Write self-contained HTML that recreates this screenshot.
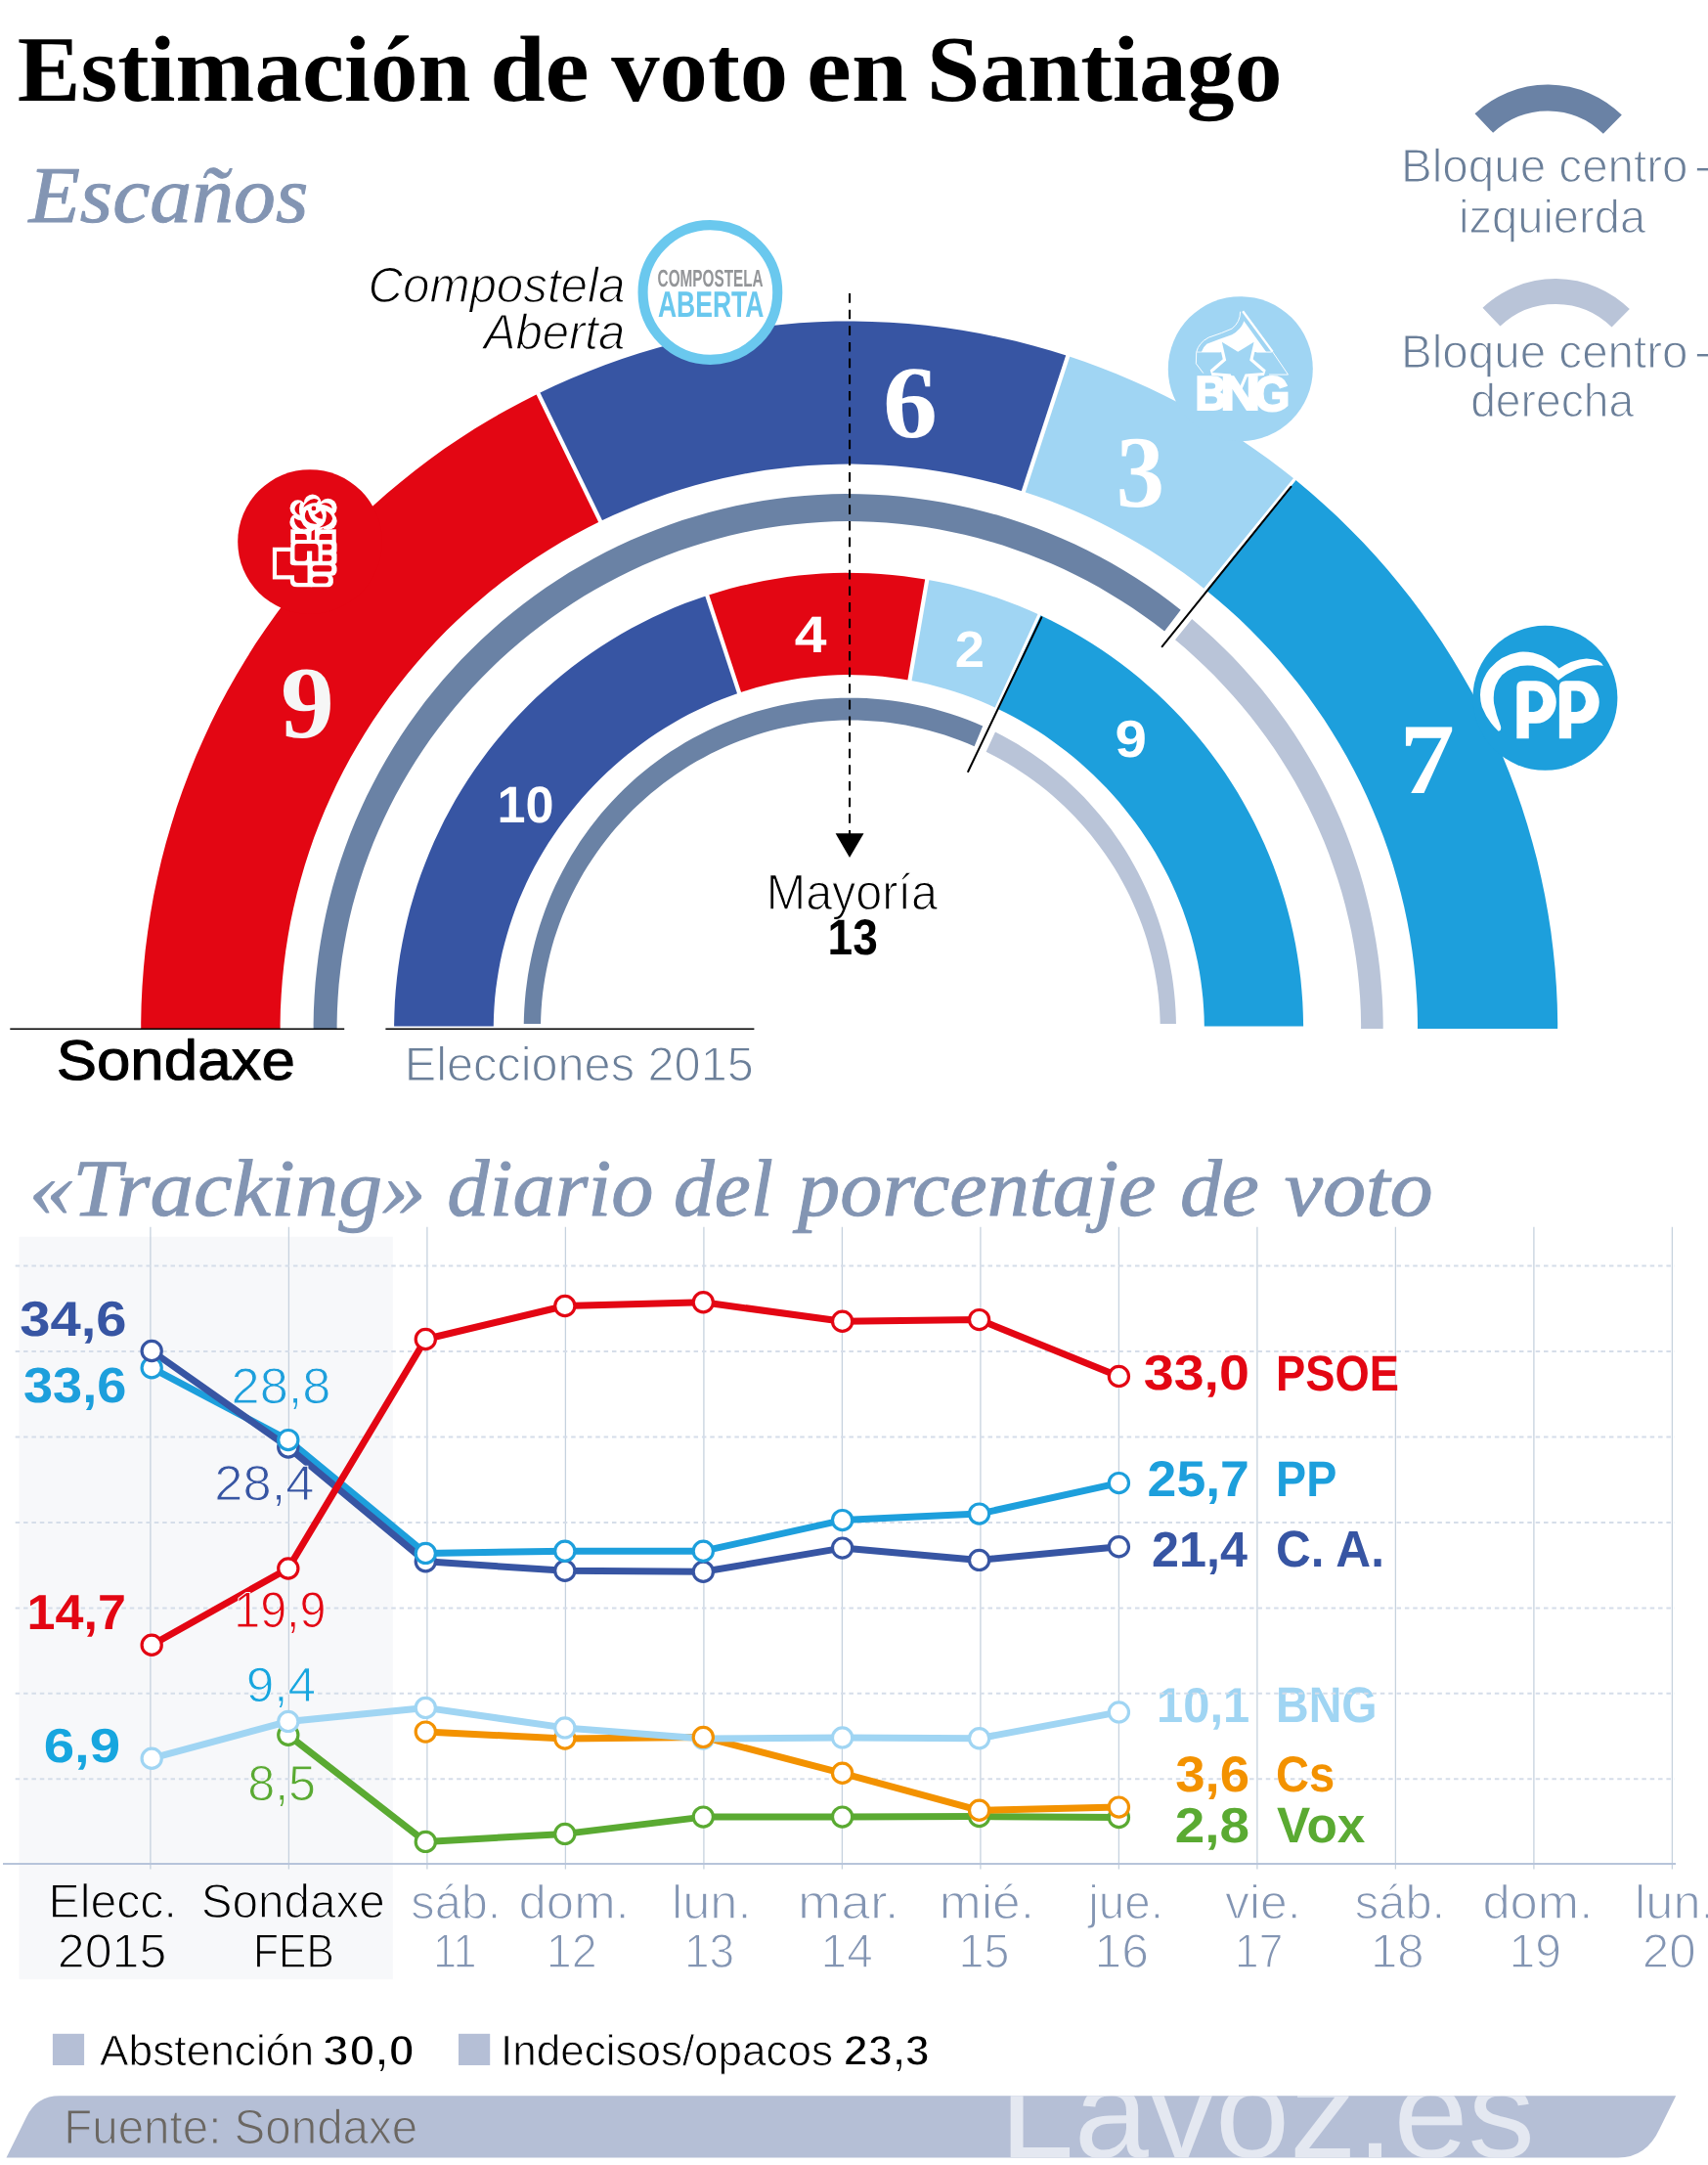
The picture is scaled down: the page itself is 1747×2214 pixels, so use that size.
<!DOCTYPE html>
<html lang="es"><head><meta charset="utf-8"><title>Estimación de voto en Santiago</title>
<style>html,body{margin:0;padding:0;background:#fff}body{width:1747px;height:2214px;overflow:hidden;font-family:"Liberation Sans",sans-serif}svg{will-change:transform}svg text{white-space:pre}</style></head>
<body>
<svg width="1747" height="2214" viewBox="0 0 1747 2214" style="display:block" text-rendering="geometricPrecision">
<rect width="1747" height="2214" fill="#fff"/>
<text transform="translate(17.78 102.50) scale(1.0109 1.0000)" font-family='"Liberation Serif", serif' font-size="96" font-weight="bold" font-style="normal" fill="#000">Estimación</text>
<text transform="translate(501.13 102.50) scale(1.0578 1.0000)" font-family='"Liberation Serif", serif' font-size="96" font-weight="bold" font-style="normal" fill="#000">de</text>
<text transform="translate(625.20 102.50) scale(1.0282 1.0000)" font-family='"Liberation Serif", serif' font-size="96" font-weight="bold" font-style="normal" fill="#000">voto</text>
<text transform="translate(825.11 102.50) scale(1.0751 1.0000)" font-family='"Liberation Serif", serif' font-size="96" font-weight="bold" font-style="normal" fill="#000">en</text>
<text transform="translate(947.91 102.50) scale(1.0173 1.0000)" font-family='"Liberation Serif", serif' font-size="96" font-weight="bold" font-style="normal" fill="#000">Santiago</text>
<text transform="translate(29.45 227.00) scale(1.0463 1.0000)" font-family='"Liberation Serif", serif' font-size="82" font-weight="normal" font-style="italic" fill="#8395b3" stroke="#8395b3" stroke-width="1.0" stroke-linejoin="round">Escaños</text>
<path d="M1517.83 126.07A94.5 94.5 0 0 1 1649.35 127.21" fill="none" stroke="#6a82a5" stroke-width="27"/>
<path d="M1525.49 324.20A95 95 0 0 1 1657.70 325.36" fill="none" stroke="#b9c4d8" stroke-width="26"/>
<text transform="translate(1433.04 186.00) scale(0.9909 1.0000)" font-family='"Liberation Sans", sans-serif' font-size="48" font-weight="normal" font-style="normal" fill="#6b7f99" stroke="#fff" stroke-width="1.2">Bloque centro</text>
<text transform="translate(1731.88 186.00) scale(1.4083 1.0000)" font-family='"Liberation Sans", sans-serif' font-size="48" font-weight="normal" font-style="normal" fill="#6b7f99" stroke="#fff" stroke-width="1.2">-</text>
<text transform="translate(1492.11 238.40) scale(0.9802 1.0000)" font-family='"Liberation Sans", sans-serif' font-size="48" font-weight="normal" font-style="normal" fill="#6b7f99" stroke="#fff" stroke-width="1.2">izquierda</text>
<text transform="translate(1433.04 375.90) scale(0.9909 1.0000)" font-family='"Liberation Sans", sans-serif' font-size="48" font-weight="normal" font-style="normal" fill="#6b7f99" stroke="#fff" stroke-width="1.2">Bloque centro</text>
<text transform="translate(1731.88 375.90) scale(1.4083 1.0000)" font-family='"Liberation Sans", sans-serif' font-size="48" font-weight="normal" font-style="normal" fill="#6b7f99" stroke="#fff" stroke-width="1.2">-</text>
<text transform="translate(1504.17 426.30) scale(0.9627 1.0000)" font-family='"Liberation Sans", sans-serif' font-size="48" font-weight="normal" font-style="normal" fill="#6b7f99" stroke="#fff" stroke-width="1.2">derecha</text>
<defs><clipPath id="cpo"><rect x="0" y="0" width="1747" height="1052"/></clipPath><clipPath id="cpi"><rect x="0" y="0" width="1747" height="1049.5"/></clipPath><clipPath id="cpr"><rect x="0" y="0" width="1747" height="1047"/></clipPath></defs>
<g clip-path="url(#cpo)">
<path d="M144.3 1064.6L144.2 1046.0L144.6 1027.3L145.5 1008.7L146.9 990.1L148.7 971.6L151.1 953.1L153.9 934.6L157.1 916.3L160.9 898.0L165.1 879.8L169.8 861.8L175.0 843.9L180.6 826.1L186.7 808.5L193.3 791.0L200.2 773.8L207.7 756.7L215.5 739.8L223.8 723.1L232.6 706.6L241.7 690.4L251.3 674.4L261.2 658.6L271.6 643.2L282.4 627.9L293.5 613.0L305.0 598.4L316.9 584.0L329.2 570.0L341.8 556.3L354.7 542.9L368.0 529.9L381.6 517.2L395.6 504.8L409.8 492.9L424.4 481.2L439.2 470.0L454.3 459.1L469.7 448.7L485.4 438.6L501.3 428.9L517.5 419.7L533.9 410.9L550.5 402.4L614.1 533.1L600.8 539.8L587.7 546.8L574.7 554.1L562.0 561.8L549.4 569.8L537.1 578.1L524.9 586.7L513.0 595.6L501.3 604.8L489.9 614.4L478.7 624.2L467.7 634.3L457.0 644.6L446.6 655.3L436.4 666.2L426.5 677.4L417.0 688.8L407.7 700.4L398.7 712.3L390.0 724.5L381.6 736.8L373.5 749.4L365.8 762.2L358.4 775.1L351.3 788.3L344.6 801.6L338.2 815.2L332.2 828.8L326.5 842.7L321.2 856.6L316.3 870.8L311.7 885.0L307.5 899.4L303.7 913.8L300.2 928.4L297.1 943.0L294.5 957.8L292.2 972.6L290.3 987.4L288.8 1002.3L287.7 1017.2L286.9 1032.2L286.6 1047.2L286.7 1062.2Z" fill="#e30613"/>
<path d="M550.5 402.4L567.2 394.5L584.2 387.0L601.4 379.9L618.7 373.2L636.2 367.0L653.8 361.3L671.6 356.0L689.5 351.1L707.6 346.7L725.7 342.8L743.9 339.4L762.3 336.4L780.7 333.9L799.1 331.9L817.6 330.3L836.1 329.2L854.7 328.6L873.2 328.5L891.8 328.9L910.3 329.7L928.9 331.0L947.3 332.8L965.8 335.1L984.1 337.8L1002.4 341.0L1020.6 344.7L1038.7 348.8L1056.7 353.4L1074.5 358.5L1092.2 364.0L1046.8 502.7L1032.6 498.3L1018.4 494.3L1004.0 490.7L989.5 487.4L975.0 484.5L960.4 482.0L945.8 479.8L931.1 478.0L916.3 476.6L901.5 475.6L886.7 474.9L871.9 474.6L857.1 474.7L842.3 475.2L827.5 476.0L812.8 477.3L798.0 478.9L783.3 480.8L768.7 483.2L754.2 485.9L739.7 489.0L725.3 492.5L711.0 496.3L696.7 500.5L682.6 505.1L668.7 510.0L654.8 515.2L641.1 520.9L627.5 526.8L614.1 533.1Z" fill="#3755a3"/>
<path d="M1092.2 364.0L1109.1 369.7L1125.8 375.9L1142.4 382.4L1158.7 389.4L1175.0 396.7L1191.0 404.5L1206.8 412.6L1222.5 421.1L1237.9 430.0L1253.1 439.3L1268.0 448.9L1282.7 458.9L1297.2 469.3L1311.4 480.0L1325.4 491.1L1233.5 603.4L1222.3 594.6L1210.9 586.1L1199.3 577.9L1187.5 570.0L1175.5 562.3L1163.3 555.0L1150.9 547.9L1138.4 541.2L1125.8 534.7L1112.9 528.6L1100.0 522.8L1086.8 517.3L1073.6 512.1L1060.3 507.2L1046.8 502.7Z" fill="#a0d5f3"/>
<path d="M1325.4 491.1L1339.7 503.0L1353.8 515.4L1367.5 528.1L1380.9 541.2L1394.0 554.5L1406.7 568.3L1419.0 582.3L1431.0 596.7L1442.6 611.3L1453.8 626.3L1464.7 641.6L1475.1 657.1L1485.2 672.9L1494.8 688.9L1504.1 705.2L1512.9 721.7L1521.2 738.4L1529.2 755.4L1536.6 772.6L1543.7 789.9L1550.3 807.4L1556.4 825.1L1562.1 843.0L1567.3 860.9L1572.1 879.1L1576.3 897.3L1580.1 915.6L1583.4 934.1L1586.3 952.6L1588.6 971.2L1590.5 989.8L1591.9 1008.5L1592.8 1027.2L1593.2 1045.9L1593.1 1064.6L1449.9 1062.2L1450.0 1047.1L1449.7 1032.1L1448.9 1017.1L1447.8 1002.1L1446.3 987.1L1444.4 972.2L1442.1 957.3L1439.4 942.5L1436.3 927.8L1432.8 913.2L1428.9 898.7L1424.7 884.3L1420.1 870.0L1415.1 855.8L1409.7 841.8L1404.0 827.9L1397.9 814.1L1391.5 800.6L1384.7 787.2L1377.6 774.0L1370.1 761.0L1362.3 748.2L1354.2 735.6L1345.7 723.2L1337.0 711.0L1327.9 699.1L1318.5 687.4L1308.9 676.0L1298.9 664.8L1288.7 653.9L1278.2 643.2L1267.4 632.8L1256.3 622.7L1245.0 612.9L1233.5 603.4Z" fill="#1d9fdc"/>
<path d="M320.7 1061.5L320.6 1047.3L320.9 1033.1L321.6 1018.9L322.6 1004.8L324.1 990.6L325.8 976.6L328.0 962.5L330.5 948.5L333.4 934.6L336.6 920.8L340.2 907.0L344.1 893.4L348.4 879.9L353.1 866.4L358.1 853.1L363.4 840.0L369.1 827.0L375.1 814.1L381.5 801.4L388.2 788.8L395.2 776.5L402.5 764.3L410.1 752.3L418.0 740.6L426.3 729.0L434.8 717.6L443.7 706.5L452.8 695.6L462.2 685.0L471.8 674.6L481.8 664.4L492.0 654.5L502.4 644.9L513.1 635.6L524.1 626.5L535.2 617.7L546.6 609.3L558.2 601.1L570.0 593.2L582.0 585.6L594.3 578.4L606.6 571.4L619.2 564.8L631.9 558.5L644.8 552.6L657.9 546.9L671.1 541.7L684.4 536.7L697.8 532.1L711.4 527.9L725.0 524.0L738.8 520.5L752.6 517.3L766.6 514.5L780.6 512.1L794.6 510.0L808.7 508.3L822.8 506.9L837.0 506.0L851.2 505.3L865.4 505.1L879.6 505.2L893.8 505.7L908.0 506.6L922.1 507.8L936.2 509.4L950.3 511.4L964.3 513.7L978.2 516.4L992.1 519.5L1005.9 522.9L1019.6 526.6L1033.2 530.8L1046.7 535.2L1060.0 540.1L1073.2 545.2L1086.3 550.7L1099.3 556.6L1112.1 562.8L1124.7 569.3L1137.1 576.1L1149.4 583.3L1161.5 590.8L1173.4 598.5L1185.0 606.6L1196.5 615.0L1207.7 623.7L1191.1 645.5L1180.4 637.3L1169.5 629.4L1158.4 621.8L1147.1 614.4L1135.6 607.4L1124.0 600.6L1112.1 594.1L1100.2 588.0L1088.0 582.1L1075.8 576.6L1063.4 571.4L1050.8 566.4L1038.1 561.9L1025.4 557.6L1012.5 553.7L999.5 550.1L986.4 546.8L973.3 543.9L960.0 541.3L946.8 539.1L933.4 537.2L920.0 535.7L906.6 534.5L893.2 533.7L879.7 533.2L866.2 533.1L852.7 533.3L839.3 533.9L825.8 534.9L812.4 536.2L799.0 537.8L785.7 539.8L772.5 542.1L759.2 544.8L746.1 547.8L733.1 551.2L720.1 554.9L707.3 558.9L694.5 563.3L681.9 568.0L669.4 573.0L657.0 578.3L644.8 584.0L632.7 589.9L620.8 596.2L609.0 602.7L597.4 609.6L586.0 616.7L574.8 624.2L563.7 631.9L552.9 639.9L542.2 648.2L531.8 656.7L521.6 665.5L511.6 674.6L501.8 683.9L492.3 693.4L483.0 703.2L474.0 713.2L465.2 723.5L456.7 734.0L448.4 744.7L440.4 755.6L432.7 766.7L425.3 778.0L418.2 789.5L411.3 801.2L404.8 813.0L398.6 825.1L392.7 837.3L387.1 849.6L381.8 862.1L376.9 874.8L372.3 887.5L368.0 900.4L364.1 913.4L360.5 926.5L357.3 939.7L354.5 953.0L352.0 966.4L349.8 979.8L348.1 993.3L346.6 1006.8L345.6 1020.4L344.9 1033.9L344.6 1047.5L344.7 1061.1Z" fill="#6a82a5"/>
<path d="M1219.2 633.1L1230.0 642.4L1240.6 652.0L1251.0 661.9L1261.1 672.1L1270.9 682.5L1280.4 693.2L1289.7 704.1L1298.6 715.3L1307.3 726.7L1315.7 738.3L1323.7 750.1L1331.5 762.2L1338.9 774.4L1346.0 786.8L1352.8 799.4L1359.3 812.2L1365.4 825.2L1371.2 838.3L1376.6 851.5L1381.7 864.9L1386.4 878.4L1390.8 892.1L1394.8 905.8L1398.4 919.7L1401.7 933.6L1404.6 947.6L1407.2 961.7L1409.4 975.9L1411.2 990.1L1412.6 1004.3L1413.7 1018.6L1414.4 1032.9L1414.7 1047.2L1414.6 1061.5L1392.0 1061.1L1392.1 1047.4L1391.8 1033.7L1391.1 1020.0L1390.0 1006.4L1388.6 992.7L1386.8 979.1L1384.6 965.6L1382.1 952.1L1379.1 938.8L1375.9 925.5L1372.3 912.3L1368.3 899.2L1363.9 886.2L1359.3 873.3L1354.3 860.6L1348.9 848.0L1343.2 835.6L1337.2 823.3L1330.9 811.2L1324.3 799.3L1317.3 787.5L1310.1 776.0L1302.6 764.6L1294.8 753.4L1286.6 742.5L1278.3 731.7L1269.6 721.2L1260.7 710.9L1251.5 700.9L1242.1 691.1L1232.4 681.5L1222.5 672.2L1212.4 663.1L1202.0 654.3Z" fill="#b9c4d8"/>
</g>
<circle cx="317" cy="554" r="73.8" fill="#e30613"/>
<circle cx="1268.8" cy="377.2" r="74" fill="#a0d5f3"/>
<circle cx="1580.4" cy="713.8" r="74" fill="#1d9fdc"/>
<line x1="614.99" y1="534.92" x2="549.60" y2="400.64" stroke="#fff" stroke-width="4.3" stroke-linecap="butt"/>
<line x1="1046.16" y1="504.60" x2="1092.86" y2="362.11" stroke="#fff" stroke-width="4.3" stroke-linecap="butt"/>
<line x1="1231.30" y1="604.22" x2="1325.46" y2="488.56" stroke="#fff" stroke-width="3.2" stroke-linecap="butt"/>
<g clip-path="url(#cpi)">
<path d="M403.2 1060.1L403.1 1048.0L403.4 1036.0L403.9 1023.9L404.8 1011.9L406.0 999.9L407.5 987.9L409.3 975.9L411.5 964.0L413.9 952.2L416.6 940.5L419.6 928.8L423.0 917.2L426.6 905.6L430.5 894.2L434.8 882.9L439.3 871.7L444.1 860.6L449.2 849.7L454.5 838.8L460.2 828.2L466.1 817.6L472.3 807.3L478.8 797.1L485.5 787.0L492.5 777.2L499.7 767.5L507.2 758.0L515.0 748.7L522.9 739.6L531.1 730.7L539.6 722.1L548.2 713.6L557.1 705.4L566.2 697.4L575.5 689.7L584.9 682.2L594.6 674.9L604.5 667.9L614.5 661.2L624.8 654.7L635.1 648.5L645.7 642.6L656.4 636.9L667.2 631.6L678.2 626.5L689.3 621.6L700.5 617.1L711.9 612.9L723.3 609.0L756.1 708.6L747.2 711.7L738.5 715.1L729.8 718.6L721.2 722.4L712.7 726.4L704.4 730.6L696.1 735.1L688.0 739.7L680.0 744.5L672.1 749.6L664.3 754.8L656.7 760.2L649.2 765.9L641.9 771.6L634.7 777.6L627.6 783.8L620.7 790.1L614.0 796.6L607.4 803.2L601.0 810.1L594.7 817.0L588.7 824.2L582.8 831.5L577.0 838.9L571.5 846.5L566.2 854.2L561.0 862.0L556.1 870.0L551.4 878.1L546.8 886.3L542.5 894.6L538.4 903.1L534.5 911.7L530.8 920.3L527.4 929.1L524.2 937.9L521.2 946.9L518.5 955.9L516.0 965.0L513.7 974.1L511.7 983.3L510.0 992.6L508.5 1001.9L507.2 1011.3L506.2 1020.6L505.5 1030.0L505.0 1039.5L504.8 1048.9L504.9 1058.3Z" fill="#3755a3"/>
<path d="M723.3 609.0L734.7 605.4L746.3 602.1L757.9 599.1L769.5 596.4L781.3 594.0L793.1 591.9L805.0 590.1L816.9 588.6L828.8 587.5L840.8 586.6L852.7 586.1L864.7 585.8L876.7 585.9L888.7 586.3L900.7 586.9L912.6 587.9L924.5 589.2L936.4 590.9L948.2 592.8L930.5 695.7L921.3 694.2L912.1 692.9L902.8 691.8L893.6 691.0L884.3 690.5L875.0 690.2L865.7 690.1L856.4 690.3L847.1 690.7L837.8 691.4L828.5 692.4L819.3 693.6L810.1 695.0L801.0 696.7L791.9 698.6L782.8 700.7L773.8 703.1L764.9 705.8L756.1 708.6Z" fill="#e30613"/>
<path d="M948.2 592.8L960.2 595.0L972.2 597.6L984.0 600.5L995.8 603.7L1007.5 607.2L1019.1 611.1L1030.6 615.2L1041.9 619.6L1053.2 624.3L1064.3 629.3L1020.2 724.7L1011.7 720.7L1003.0 717.0L994.2 713.5L985.3 710.3L976.3 707.2L967.3 704.4L958.2 701.9L949.0 699.6L939.8 697.5L930.5 695.7Z" fill="#a0d5f3"/>
<path d="M1064.3 629.3L1075.1 634.5L1085.7 640.0L1096.2 645.7L1106.5 651.7L1116.7 658.0L1126.7 664.5L1136.5 671.3L1146.1 678.3L1155.6 685.6L1164.9 693.1L1174.0 700.9L1182.8 708.8L1191.5 717.0L1200.0 725.5L1208.2 734.1L1216.2 742.9L1224.0 752.0L1231.6 761.2L1238.9 770.7L1245.9 780.3L1252.8 790.1L1259.3 800.0L1265.6 810.1L1271.7 820.4L1277.5 830.9L1283.0 841.4L1288.2 852.2L1293.2 863.0L1297.9 874.0L1302.3 885.1L1306.4 896.2L1310.2 907.5L1313.8 918.9L1317.0 930.4L1320.0 941.9L1322.6 953.6L1325.0 965.2L1327.0 977.0L1328.8 988.8L1330.3 1000.6L1331.4 1012.5L1332.3 1024.4L1332.8 1036.3L1333.1 1048.2L1333.0 1060.1L1231.7 1058.3L1231.8 1049.0L1231.6 1039.7L1231.1 1030.4L1230.4 1021.1L1229.4 1011.8L1228.2 1002.6L1226.8 993.4L1225.1 984.3L1223.1 975.2L1220.9 966.1L1218.5 957.1L1215.8 948.2L1212.9 939.4L1209.8 930.6L1206.4 922.0L1202.9 913.4L1199.1 904.9L1195.1 896.6L1190.8 888.3L1186.4 880.2L1181.8 872.1L1177.0 864.2L1171.9 856.4L1166.7 848.8L1161.3 841.3L1155.7 833.9L1150.0 826.7L1144.1 819.6L1137.9 812.6L1131.7 805.8L1125.2 799.2L1118.7 792.7L1111.9 786.4L1105.0 780.3L1098.0 774.3L1090.8 768.5L1083.4 762.9L1076.0 757.4L1068.4 752.1L1060.7 747.1L1052.8 742.2L1044.8 737.5L1036.7 733.0L1028.5 728.7L1020.2 724.7Z" fill="#1d9fdc"/>
</g>
<g clip-path="url(#cpr)">
<path d="M535.7 1057.8L535.7 1049.1L535.9 1040.5L536.3 1031.8L536.9 1023.2L537.7 1014.5L538.8 1005.9L540.0 997.3L541.5 988.8L543.2 980.2L545.1 971.8L547.2 963.3L549.5 955.0L552.0 946.7L554.8 938.4L557.7 930.2L560.9 922.1L564.2 914.1L567.8 906.1L571.6 898.3L575.6 890.5L579.7 882.9L584.1 875.3L588.7 867.9L593.4 860.6L598.4 853.4L603.6 846.3L608.9 839.4L614.4 832.6L620.1 826.0L626.0 819.5L632.0 813.2L638.2 807.0L644.6 801.0L651.1 795.1L657.8 789.5L664.6 784.0L671.6 778.7L678.7 773.6L686.0 768.6L693.4 763.9L700.9 759.3L708.5 755.0L716.3 750.9L724.1 746.9L732.1 743.2L740.1 739.7L748.3 736.4L756.5 733.3L764.8 730.5L773.2 727.8L781.7 725.4L790.2 723.2L798.7 721.2L807.4 719.5L816.0 718.0L824.7 716.7L833.4 715.6L842.2 714.8L851.0 714.2L859.8 713.8L868.6 713.7L877.4 713.8L886.1 714.1L894.9 714.7L903.7 715.5L912.4 716.5L921.1 717.7L929.8 719.2L938.4 720.9L947.0 722.8L955.5 725.0L964.0 727.4L972.4 730.0L980.7 732.8L989.0 735.8L997.1 739.1L1005.2 742.6L996.6 763.2L989.1 760.0L981.4 757.0L973.7 754.2L966.0 751.6L958.1 749.2L950.2 747.0L942.3 745.0L934.3 743.2L926.2 741.6L918.1 740.2L910.0 739.1L901.9 738.1L893.7 737.4L885.5 736.9L877.3 736.6L869.1 736.5L860.9 736.6L852.7 737.0L844.5 737.5L836.4 738.3L828.2 739.3L820.1 740.5L812.0 741.9L804.0 743.5L796.0 745.3L788.0 747.3L780.2 749.6L772.3 752.0L764.6 754.7L756.9 757.5L749.3 760.6L741.7 763.8L734.3 767.2L726.9 770.8L719.7 774.7L712.5 778.6L705.4 782.8L698.5 787.2L691.7 791.7L685.0 796.4L678.4 801.3L671.9 806.4L665.6 811.6L659.4 816.9L653.3 822.5L647.4 828.1L641.6 834.0L636.0 840.0L630.5 846.1L625.2 852.3L620.1 858.7L615.1 865.3L610.3 871.9L605.7 878.7L601.2 885.6L596.9 892.6L592.8 899.7L588.9 907.0L585.2 914.3L581.6 921.7L578.3 929.2L575.1 936.8L572.2 944.5L569.5 952.3L566.9 960.1L564.6 968.0L562.5 976.0L560.6 984.0L558.9 992.0L557.4 1000.1L556.1 1008.3L555.0 1016.4L554.2 1024.6L553.6 1032.8L553.2 1041.1L553.0 1049.3L553.0 1057.5Z" fill="#6a82a5"/>
<path d="M1018.0 748.6L1025.7 752.6L1033.3 756.8L1040.9 761.1L1048.2 765.7L1055.5 770.5L1062.6 775.4L1069.6 780.6L1076.5 785.9L1083.2 791.4L1089.8 797.1L1096.2 802.9L1102.5 808.9L1108.6 815.1L1114.5 821.4L1120.2 827.9L1125.8 834.5L1131.2 841.2L1136.5 848.1L1141.5 855.2L1146.4 862.3L1151.1 869.6L1155.6 877.0L1159.8 884.4L1163.9 892.0L1167.8 899.7L1171.5 907.5L1175.1 915.4L1178.4 923.4L1181.4 931.4L1184.3 939.5L1187.0 947.7L1189.5 955.9L1191.8 964.2L1193.8 972.6L1195.7 981.0L1197.3 989.4L1198.8 997.9L1200.0 1006.4L1201.0 1014.9L1201.8 1023.5L1202.4 1032.1L1202.8 1040.6L1203.0 1049.2L1203.0 1057.8L1186.7 1057.5L1186.7 1049.4L1186.5 1041.2L1186.1 1033.1L1185.5 1024.9L1184.7 1016.8L1183.7 1008.7L1182.4 1000.7L1181.0 992.7L1179.3 984.7L1177.4 976.7L1175.3 968.9L1173.1 961.0L1170.6 953.3L1167.9 945.6L1165.0 938.0L1161.9 930.4L1158.6 923.0L1155.2 915.6L1151.5 908.3L1147.7 901.2L1143.7 894.1L1139.5 887.1L1135.1 880.3L1130.5 873.5L1125.8 866.9L1120.9 860.4L1115.9 854.0L1110.6 847.8L1105.3 841.7L1099.8 835.7L1094.1 829.9L1088.3 824.2L1082.3 818.7L1076.2 813.3L1070.0 808.1L1063.6 803.1L1057.2 798.2L1050.6 793.5L1043.8 788.9L1037.0 784.5L1030.1 780.3L1023.0 776.3L1015.9 772.4L1008.6 768.8Z" fill="#b9c4d8"/>
</g>
<line x1="756.68" y1="710.51" x2="722.68" y2="607.08" stroke="#fff" stroke-width="4.2" stroke-linecap="butt"/>
<line x1="930.14" y1="697.67" x2="948.59" y2="590.81" stroke="#fff" stroke-width="4.2" stroke-linecap="butt"/>
<line x1="1018.27" y1="725.95" x2="1063.66" y2="626.83" stroke="#fff" stroke-width="3.0" stroke-linecap="butt"/>
<line x1="1320.4" y1="497.9" x2="1188.7" y2="661.1" stroke="#000" stroke-width="2" stroke-linecap="round"/>
<line x1="1065.3" y1="631.4" x2="990.2" y2="789" stroke="#000" stroke-width="2" stroke-linecap="round"/>
<line x1="10.3" y1="1052.3" x2="352.2" y2="1052.3" stroke="#000" stroke-width="1.6"/>
<line x1="394.4" y1="1052.3" x2="771.4" y2="1052.3" stroke="#000" stroke-width="1.6"/>
<line x1="869.05" y1="300.1" x2="869.05" y2="853" stroke="#000" stroke-width="2.1" stroke-dasharray="9.6 7.03"/>
<path d="M854.6 852.3H883.5L869 877Z" fill="#000"/>
<text transform="translate(783.75 929.75) scale(0.9412 1.0000)" font-family='"Liberation Sans", sans-serif' font-size="51.5" font-weight="normal" font-style="normal" fill="#000" stroke="#fff" stroke-width="1.3">Mayoría</text>
<text transform="translate(846.54 976.30) scale(0.9202 1.0286)" font-family='"Liberation Sans", sans-serif' font-size="50" font-weight="bold" font-style="normal" fill="#000">13</text>
<text transform="translate(286.88 753.50) scale(1.0971 1.0491)" font-family='"Liberation Serif", serif' font-size="100" font-weight="bold" font-style="normal" fill="#f6f6f6">9</text>
<text transform="translate(903.08 446.80) scale(1.1195 1.0536)" font-family='"Liberation Serif", serif' font-size="100" font-weight="bold" font-style="normal" fill="#fff">6</text>
<text transform="translate(1141.71 517.60) scale(0.9848 1.0475)" font-family='"Liberation Serif", serif' font-size="100" font-weight="bold" font-style="normal" fill="#fff">3</text>
<text transform="translate(508.57 841.40) scale(1.0436 1.0514)" font-family='"Liberation Sans", sans-serif' font-size="50" font-weight="bold" font-style="normal" fill="#fff">10</text>
<text transform="translate(812.82 667.40) scale(1.1776 1.0580)" font-family='"Liberation Sans", sans-serif' font-size="50" font-weight="bold" font-style="normal" fill="#fff">4</text>
<text transform="translate(976.80 681.50) scale(1.0875 1.0429)" font-family='"Liberation Sans", sans-serif' font-size="50" font-weight="bold" font-style="normal" fill="#fff">2</text>
<text transform="translate(57.66 1103.50) scale(1.0315 0.9609)" font-family='"Liberation Sans", sans-serif' font-size="60" font-weight="normal" font-style="normal" fill="#000" stroke="#000" stroke-width="1.0" stroke-linejoin="round">Sondaxe</text>
<text transform="translate(413.73 1104.60) scale(0.9929 1.0000)" font-family='"Liberation Sans", sans-serif' font-size="49" font-weight="normal" font-style="normal" fill="#6b7f99" stroke="#fff" stroke-width="1.2">Elecciones 2015</text>
<text transform="translate(376.39 309.15) scale(0.9664 1.0000)" font-family='"Liberation Sans", sans-serif' font-size="51" font-weight="normal" font-style="italic" fill="#000" stroke="#fff" stroke-width="1.3">Compostela</text>
<text transform="translate(494.75 356.55) scale(0.9616 1.0000)" font-family='"Liberation Sans", sans-serif' font-size="51" font-weight="normal" font-style="italic" fill="#000" stroke="#fff" stroke-width="1.3">Aberta</text>
<circle cx="726.4" cy="299" r="68.85" fill="#fff" stroke="#6ac8ee" stroke-width="10.1"/>
<text transform="translate(672.59 293.30) scale(0.6123 0.9943)" font-family='"Liberation Sans", sans-serif' font-size="25" font-weight="bold" font-style="normal" fill="#939598">COMPOSTELA</text>
<text transform="translate(672.98 323.80) scale(0.7157 1.0118)" font-family='"Liberation Sans", sans-serif' font-size="37" font-weight="bold" font-style="normal" fill="#6ac8ee">ABERTA</text>
<g transform="translate(270 500) scale(0.049180)">
<g fill="#fff">
<circle cx="705" cy="395" r="165"/>
<circle cx="1010" cy="290" r="178"/>
<circle cx="1330" cy="385" r="188"/>
<circle cx="720" cy="690" r="185"/>
<circle cx="1330" cy="665" r="188"/>
<circle cx="1020" cy="560" r="330"/>
<rect x="555" y="840" width="945" height="280"/>
<rect x="555" y="1090" width="960" height="260" rx="70"/>
<rect x="555" y="1300" width="960" height="270" rx="70"/>
<rect x="890" y="1540" width="625" height="265" rx="105"/>
<rect x="890" y="1775" width="550" height="265" rx="105"/>
<path d="M545 1500H1000V2040H690Q545 2040 545 1900Z"/>
<rect x="180" y="1215" width="450" height="665"/>
</g>
<g fill="#e30613">
<path d="M265 1300H545V1545Q560 1590 640 1590H905V1950H710Q630 1950 630 1870V1795H265Z"/>
<path d="M700 1140H1050Q1130 1140 1130 1220V1500H1000V1290H895V1440Q895 1500 835 1500H700Q640 1500 640 1440V1200Q640 1140 700 1140Z"/>
<path d="M1215 1150H1350Q1410 1150 1410 1210Q1410 1270 1350 1270H1215Z"/>
<path d="M1215 1370H1345Q1410 1370 1410 1435Q1410 1500 1345 1500H1215Z"/>
<rect x="1010" y="1590" width="400" height="130" rx="65"/>
<rect x="1010" y="1820" width="330" height="140" rx="70"/>
<path d="M650 935H830Q890 935 890 995V1055H650Z"/>
<path d="M1150 1055V995Q1150 935 1210 935H1415V1055Z"/>
<path d="M985 1055H1055V845L990 882Z"/>
<path d="M760 280Q640 330 640 425Q655 510 750 545Q705 420 760 280Z"/>
<path d="M820 385Q880 235 1040 205Q1100 205 1135 240Q1110 260 1095 290Q950 275 820 385Z"/>
<path d="M1190 320Q1300 255 1390 330Q1420 370 1415 405Q1330 335 1190 320Z"/>
<circle cx="1035" cy="405" r="48"/>
<path d="M885 440Q810 580 900 670Q985 745 1105 722Q945 640 915 445Z"/>
<path d="M1050 545L1180 450Q1232 540 1215 625Q1110 612 1050 545Z"/>
<path d="M1290 455Q1420 520 1425 620Q1400 760 1150 805Q1335 700 1290 455Z"/>
<path d="M630 605Q620 760 760 830L900 830Q800 750 770 660Q690 650 630 605Z"/>
</g>
</g>
<g transform="translate(1215 310) scale(0.064393)">
<path d="M890 285Q850 420 700 500Q480 575 300 650Q240 700 215 775H1245Z" fill="#fff"/>
<path d="M832 135Q835 300 700 405Q560 470 330 545Q170 630 135 780L130 960L245 1112" fill="none" stroke="#fff" stroke-width="15" stroke-linejoin="round"/>
<path d="M872 128L1345 770" fill="none" stroke="#fff" stroke-width="36"/>
<path d="M1330 750L1592 1135H1290" fill="none" stroke="#fff" stroke-width="15" stroke-linejoin="miter"/>
<path d="M1090 777H1330" fill="none" stroke="#fff" stroke-width="16"/>
<path d="M140 777H520" fill="none" stroke="#fff" stroke-width="12"/>
<polygon points="795.0,1400.0 679.8,1126.6 384.1,1101.5 608.6,907.4 541.1,618.5 795.0,772.0 1048.9,618.5 981.4,907.4 1205.9,1101.5 910.2,1126.6" fill="#a0d5f3" stroke="#fff" stroke-width="96" stroke-linejoin="miter" stroke-miterlimit="1.6" paint-order="stroke"/>
</g>
<text transform="translate(1222.53 419.20) scale(0.8820 0.9797)" font-family='"Liberation Sans", sans-serif' font-size="50" font-weight="bold" font-style="normal" fill="#fff" stroke="#fff" stroke-width="2.2">B</text>
<text transform="translate(1248.32 419.20) scale(1.1322 0.9797)" font-family='"Liberation Sans", sans-serif' font-size="50" font-weight="bold" font-style="normal" fill="#fff" stroke="#fff" stroke-width="2.2">N</text>
<text transform="translate(1282.82 419.60) scale(0.9393 0.9971)" font-family='"Liberation Sans", sans-serif' font-size="50" font-weight="bold" font-style="normal" fill="#fff" stroke="#fff" stroke-width="2.2">G</text>
<g transform="translate(1490 625) scale(0.105385)" fill="#fff">
<path fill-rule="evenodd" d="M582 1235V737Q582 677 645 677H770A196 206.5 0 0 1 770 1090H700V1235ZM700 774H748A90 101.5 0 0 1 748 977H700Z"/>
<path fill-rule="evenodd" d="M995 1235V737Q995 677 1058 677H1187A196 206.5 0 0 1 1187 1090H1112V1235ZM1112 774H1162A90 101.5 0 0 1 1162 977H1112Z"/>
<path d="M405 1165Q300 1070 245 930Q195 760 290 600Q400 430 610 395Q830 380 992 556Q1120 470 1260 460Q1390 465 1422 528Q1300 515 1160 565Q1060 610 985 672Q880 560 740 530Q560 510 440 620Q340 730 362 900Q380 1000 425 1110Q440 1160 405 1165Z"/>
</g>
<text transform="translate(1431.51 811.30) scale(1.1281 1.0305)" font-family='"Liberation Serif", serif' font-size="100" font-weight="bold" font-style="normal" fill="#fff">7</text>
<text transform="translate(1140.46 774.20) scale(1.1670 1.0686)" font-family='"Liberation Sans", sans-serif' font-size="50" font-weight="bold" font-style="normal" fill="#fff">9</text>
<text transform="translate(29.67 1243.30) scale(1.0732 1.0000)" font-family='"Liberation Serif", serif' font-size="83" font-weight="normal" font-style="italic" fill="#8395b3" stroke="#8395b3" stroke-width="1.0" stroke-linejoin="round">«Tracking»</text>
<text transform="translate(457.20 1243.30) scale(1.0414 1.0000)" font-family='"Liberation Serif", serif' font-size="83" font-weight="normal" font-style="italic" fill="#8395b3" stroke="#8395b3" stroke-width="1.0" stroke-linejoin="round">diario</text>
<text transform="translate(689.09 1243.30) scale(1.0041 1.0000)" font-family='"Liberation Serif", serif' font-size="83" font-weight="normal" font-style="italic" fill="#8395b3" stroke="#8395b3" stroke-width="1.0" stroke-linejoin="round">del</text>
<text transform="translate(816.05 1243.30) scale(1.0413 1.0000)" font-family='"Liberation Serif", serif' font-size="83" font-weight="normal" font-style="italic" fill="#8395b3" stroke="#8395b3" stroke-width="1.0" stroke-linejoin="round">porcentaje</text>
<text transform="translate(1207.02 1243.30) scale(1.0311 1.0000)" font-family='"Liberation Serif", serif' font-size="83" font-weight="normal" font-style="italic" fill="#8395b3" stroke="#8395b3" stroke-width="1.0" stroke-linejoin="round">de</text>
<text transform="translate(1313.67 1243.30) scale(1.0643 1.0000)" font-family='"Liberation Serif", serif' font-size="83" font-weight="normal" font-style="italic" fill="#8395b3" stroke="#8395b3" stroke-width="1.0" stroke-linejoin="round">voto</text>
<rect x="19.5" y="1264.7" width="382.3" height="759.5" fill="#f7f8fa"/>
<text transform="translate(1183.01 1760.60) scale(0.9978 1.0248)" font-family='"Liberation Sans", sans-serif' font-size="49" font-weight="bold" font-style="normal" fill="#a0d5f3">10,1</text>
<text transform="translate(1305.01 1760.60) scale(0.9512 1.0453)" font-family='"Liberation Sans", sans-serif' font-size="49" font-weight="bold" font-style="normal" fill="#a0d5f3">BNG</text>
<line x1="153.9" y1="1254.8" x2="153.9" y2="1911.5" stroke="#c6d2de" stroke-width="1.3"/>
<line x1="295.4" y1="1254.8" x2="295.4" y2="1911.5" stroke="#c6d2de" stroke-width="1.3"/>
<line x1="436.9" y1="1254.8" x2="436.9" y2="1911.5" stroke="#c6d2de" stroke-width="1.3"/>
<line x1="578.4" y1="1254.8" x2="578.4" y2="1911.5" stroke="#c6d2de" stroke-width="1.3"/>
<line x1="719.9" y1="1254.8" x2="719.9" y2="1911.5" stroke="#c6d2de" stroke-width="1.3"/>
<line x1="861.4" y1="1254.8" x2="861.4" y2="1911.5" stroke="#c6d2de" stroke-width="1.3"/>
<line x1="1002.9" y1="1254.8" x2="1002.9" y2="1911.5" stroke="#c6d2de" stroke-width="1.3"/>
<line x1="1144.4" y1="1254.8" x2="1144.4" y2="1911.5" stroke="#c6d2de" stroke-width="1.3"/>
<line x1="1285.9" y1="1254.8" x2="1285.9" y2="1911.5" stroke="#c6d2de" stroke-width="1.3"/>
<line x1="1427.4" y1="1254.8" x2="1427.4" y2="1911.5" stroke="#c6d2de" stroke-width="1.3"/>
<line x1="1568.9" y1="1254.8" x2="1568.9" y2="1911.5" stroke="#c6d2de" stroke-width="1.3"/>
<line x1="1710.4" y1="1254.8" x2="1710.4" y2="1911.5" stroke="#c6d2de" stroke-width="1.3"/>
<line x1="15.7" y1="1294.6" x2="1713" y2="1294.6" stroke="#d5dde9" stroke-width="2" stroke-dasharray="4.5 3.86"/>
<line x1="15.7" y1="1382.0" x2="1713" y2="1382.0" stroke="#d5dde9" stroke-width="2" stroke-dasharray="4.5 3.86"/>
<line x1="15.7" y1="1469.5" x2="1713" y2="1469.5" stroke="#d5dde9" stroke-width="2" stroke-dasharray="4.5 3.86"/>
<line x1="15.7" y1="1556.9" x2="1713" y2="1556.9" stroke="#d5dde9" stroke-width="2" stroke-dasharray="4.5 3.86"/>
<line x1="15.7" y1="1644.4" x2="1713" y2="1644.4" stroke="#d5dde9" stroke-width="2" stroke-dasharray="4.5 3.86"/>
<line x1="15.7" y1="1731.8" x2="1713" y2="1731.8" stroke="#d5dde9" stroke-width="2" stroke-dasharray="4.5 3.86"/>
<line x1="15.7" y1="1819.3" x2="1713" y2="1819.3" stroke="#d5dde9" stroke-width="2" stroke-dasharray="4.5 3.86"/>
<line x1="3" y1="1906" x2="1714" y2="1906" stroke="#b7c4da" stroke-width="2"/>
<polyline points="155.2,1398.8 294.8,1472.6 435.3,1588.4 577.8,1586.2 719.3,1586.2 861.6,1554.6 1001.6,1548.1 1144.4,1516.6" fill="none" stroke="#1d9fdc" stroke-width="7.0" stroke-linejoin="round"/>
<polyline points="155.2,1381.5 294.8,1480.0 435.3,1596.8 577.8,1606.3 719.3,1607.3 861.6,1583.1 1001.6,1595.4 1144.4,1581.7" fill="none" stroke="#3755a3" stroke-width="7.0" stroke-linejoin="round"/>
<polyline points="155.2,1682.2 294.8,1604.0 435.3,1369.5 577.8,1335.5 719.3,1331.8 861.6,1351.3 1001.6,1349.6 1144.4,1407.4" fill="none" stroke="#e30613" stroke-width="7.0" stroke-linejoin="round"/>
<polyline points="294.8,1774.3 435.3,1883.4 577.8,1875.4 719.3,1858.1 861.6,1858.1 1001.6,1857.6 1144.4,1858.6" fill="none" stroke="#5aaa32" stroke-width="7.0" stroke-linejoin="round"/>
<polyline points="435.3,1771.1 577.8,1778.0 719.3,1776.4 861.6,1813.3 1001.6,1851.3 1144.4,1848.1" fill="none" stroke="#f39200" stroke-width="7.0" stroke-linejoin="round"/>
<polyline points="155.2,1798.2 294.8,1760.4 435.3,1746.4 577.8,1766.9 719.3,1778.0 861.6,1776.9 1001.6,1777.7 1144.4,1750.9" fill="none" stroke="#a0d5f3" stroke-width="7.0" stroke-linejoin="round"/>
<circle cx="155.2" cy="1398.8" r="10.1" fill="#fff" stroke="#1d9fdc" stroke-width="3.2"/>
<circle cx="155.2" cy="1381.5" r="10.1" fill="#fff" stroke="#3755a3" stroke-width="3.2"/>
<circle cx="155.2" cy="1682.2" r="10.1" fill="#fff" stroke="#e30613" stroke-width="3.2"/>
<circle cx="155.2" cy="1798.2" r="10.1" fill="#fff" stroke="#a0d5f3" stroke-width="3.2"/>
<circle cx="294.8" cy="1480.0" r="10.1" fill="#fff" stroke="#3755a3" stroke-width="3.2"/>
<circle cx="294.8" cy="1472.6" r="10.1" fill="#fff" stroke="#1d9fdc" stroke-width="3.2"/>
<circle cx="294.8" cy="1604.0" r="10.1" fill="#fff" stroke="#e30613" stroke-width="3.2"/>
<circle cx="294.8" cy="1774.3" r="10.1" fill="#fff" stroke="#5aaa32" stroke-width="3.2"/>
<circle cx="294.8" cy="1760.4" r="10.1" fill="#fff" stroke="#a0d5f3" stroke-width="3.2"/>
<circle cx="435.3" cy="1596.8" r="10.1" fill="#fff" stroke="#3755a3" stroke-width="3.2"/>
<circle cx="435.3" cy="1588.4" r="10.1" fill="#fff" stroke="#1d9fdc" stroke-width="3.2"/>
<circle cx="435.3" cy="1369.5" r="10.1" fill="#fff" stroke="#e30613" stroke-width="3.2"/>
<circle cx="435.3" cy="1883.4" r="10.1" fill="#fff" stroke="#5aaa32" stroke-width="3.2"/>
<circle cx="435.3" cy="1771.1" r="10.1" fill="#fff" stroke="#f39200" stroke-width="3.2"/>
<circle cx="435.3" cy="1746.4" r="10.1" fill="#fff" stroke="#a0d5f3" stroke-width="3.2"/>
<circle cx="577.8" cy="1606.3" r="10.1" fill="#fff" stroke="#3755a3" stroke-width="3.2"/>
<circle cx="577.8" cy="1586.2" r="10.1" fill="#fff" stroke="#1d9fdc" stroke-width="3.2"/>
<circle cx="577.8" cy="1335.5" r="10.1" fill="#fff" stroke="#e30613" stroke-width="3.2"/>
<circle cx="577.8" cy="1875.4" r="10.1" fill="#fff" stroke="#5aaa32" stroke-width="3.2"/>
<circle cx="577.8" cy="1778.0" r="10.1" fill="#fff" stroke="#f39200" stroke-width="3.2"/>
<circle cx="577.8" cy="1766.9" r="10.1" fill="#fff" stroke="#a0d5f3" stroke-width="3.2"/>
<circle cx="719.3" cy="1607.3" r="10.1" fill="#fff" stroke="#3755a3" stroke-width="3.2"/>
<circle cx="719.3" cy="1586.2" r="10.1" fill="#fff" stroke="#1d9fdc" stroke-width="3.2"/>
<circle cx="719.3" cy="1331.8" r="10.1" fill="#fff" stroke="#e30613" stroke-width="3.2"/>
<circle cx="719.3" cy="1858.1" r="10.1" fill="#fff" stroke="#5aaa32" stroke-width="3.2"/>
<circle cx="719.3" cy="1778.0" r="10.1" fill="#fff" stroke="#a0d5f3" stroke-width="3.2"/>
<circle cx="719.3" cy="1776.4" r="10.1" fill="#fff" stroke="#f39200" stroke-width="3.2"/>
<circle cx="861.6" cy="1583.1" r="10.1" fill="#fff" stroke="#3755a3" stroke-width="3.2"/>
<circle cx="861.6" cy="1554.6" r="10.1" fill="#fff" stroke="#1d9fdc" stroke-width="3.2"/>
<circle cx="861.6" cy="1351.3" r="10.1" fill="#fff" stroke="#e30613" stroke-width="3.2"/>
<circle cx="861.6" cy="1858.1" r="10.1" fill="#fff" stroke="#5aaa32" stroke-width="3.2"/>
<circle cx="861.6" cy="1776.9" r="10.1" fill="#fff" stroke="#a0d5f3" stroke-width="3.2"/>
<circle cx="861.6" cy="1813.3" r="10.1" fill="#fff" stroke="#f39200" stroke-width="3.2"/>
<circle cx="1001.6" cy="1595.4" r="10.1" fill="#fff" stroke="#3755a3" stroke-width="3.2"/>
<circle cx="1001.6" cy="1548.1" r="10.1" fill="#fff" stroke="#1d9fdc" stroke-width="3.2"/>
<circle cx="1001.6" cy="1349.6" r="10.1" fill="#fff" stroke="#e30613" stroke-width="3.2"/>
<circle cx="1001.6" cy="1857.6" r="10.1" fill="#fff" stroke="#5aaa32" stroke-width="3.2"/>
<circle cx="1001.6" cy="1777.7" r="10.1" fill="#fff" stroke="#a0d5f3" stroke-width="3.2"/>
<circle cx="1001.6" cy="1851.3" r="10.1" fill="#fff" stroke="#f39200" stroke-width="3.2"/>
<circle cx="1144.4" cy="1581.7" r="10.1" fill="#fff" stroke="#3755a3" stroke-width="3.2"/>
<circle cx="1144.4" cy="1516.6" r="10.1" fill="#fff" stroke="#1d9fdc" stroke-width="3.2"/>
<circle cx="1144.4" cy="1407.4" r="10.1" fill="#fff" stroke="#e30613" stroke-width="3.2"/>
<circle cx="1144.4" cy="1858.6" r="10.1" fill="#fff" stroke="#5aaa32" stroke-width="3.2"/>
<circle cx="1144.4" cy="1750.9" r="10.1" fill="#fff" stroke="#a0d5f3" stroke-width="3.2"/>
<circle cx="1144.4" cy="1848.1" r="10.1" fill="#fff" stroke="#f39200" stroke-width="3.2"/>
<text transform="translate(20.17 1366.40) scale(1.1469 1.0277)" font-family='"Liberation Sans", sans-serif' font-size="49" font-weight="bold" font-style="normal" fill="#3755a3">34,6</text>
<text transform="translate(23.92 1434.00) scale(1.1068 1.0394)" font-family='"Liberation Sans", sans-serif' font-size="49" font-weight="bold" font-style="normal" fill="#1d9fdc">33,6</text>
<text transform="translate(27.51 1665.60) scale(1.0626 1.0341)" font-family='"Liberation Sans", sans-serif' font-size="49" font-weight="bold" font-style="normal" fill="#e30613">14,7</text>
<text transform="translate(44.68 1802.00) scale(1.1519 1.0044)" font-family='"Liberation Sans", sans-serif' font-size="49" font-weight="bold" font-style="normal" fill="#17a6df">6,9</text>
<text transform="translate(236.53 1435.20) scale(1.0678 1.0540)" font-family='"Liberation Sans", sans-serif' font-size="49" font-weight="normal" font-style="normal" fill="#1d9fdc" stroke="#f7f8fa" stroke-width="1.0">28,8</text>
<text transform="translate(219.32 1533.60) scale(1.0707 1.0336)" font-family='"Liberation Sans", sans-serif' font-size="49" font-weight="normal" font-style="normal" fill="#3755a3" stroke="#f7f8fa" stroke-width="1.0">28,4</text>
<text transform="translate(239.19 1663.90) scale(0.9894 1.0540)" font-family='"Liberation Sans", sans-serif' font-size="49" font-weight="normal" font-style="normal" fill="#e30613" stroke="#f7f8fa" stroke-width="1.0">19,9</text>
<text transform="translate(251.64 1739.80) scale(1.0490 1.0190)" font-family='"Liberation Sans", sans-serif' font-size="49" font-weight="normal" font-style="normal" fill="#17a6df" stroke="#f7f8fa" stroke-width="1.0">9,4</text>
<text transform="translate(253.15 1840.70) scale(1.0266 1.0365)" font-family='"Liberation Sans", sans-serif' font-size="49" font-weight="normal" font-style="normal" fill="#5aaa32" stroke="#f7f8fa" stroke-width="1.0">8,5</text>
<text transform="translate(1169.68 1421.00) scale(1.1359 1.0277)" font-family='"Liberation Sans", sans-serif' font-size="49" font-weight="bold" font-style="normal" fill="#e30613">33,0</text>
<text transform="translate(1305.09 1421.60) scale(0.9252 1.0453)" font-family='"Liberation Sans", sans-serif' font-size="49" font-weight="bold" font-style="normal" fill="#e30613">PSOE</text>
<text transform="translate(1173.59 1529.80) scale(1.0940 1.0511)" font-family='"Liberation Sans", sans-serif' font-size="49" font-weight="bold" font-style="normal" fill="#1d9fdc">25,7</text>
<text transform="translate(1305.01 1529.80) scale(0.9521 1.0459)" font-family='"Liberation Sans", sans-serif' font-size="49" font-weight="bold" font-style="normal" fill="#1d9fdc">PP</text>
<text transform="translate(1178.10 1601.50) scale(1.0263 1.0394)" font-family='"Liberation Sans", sans-serif' font-size="49" font-weight="bold" font-style="normal" fill="#3755a3">21,4</text>
<text transform="translate(1304.88 1601.90) scale(1.0115 1.0715)" font-family='"Liberation Sans", sans-serif' font-size="49" font-weight="bold" font-style="normal" fill="#3755a3">C. A.</text>
<text transform="translate(1202.21 1831.70) scale(1.1154 1.0511)" font-family='"Liberation Sans", sans-serif' font-size="49" font-weight="bold" font-style="normal" fill="#f39200">3,6</text>
<text transform="translate(1304.98 1831.70) scale(0.9617 1.0511)" font-family='"Liberation Sans", sans-serif' font-size="49" font-weight="bold" font-style="normal" fill="#f39200">Cs</text>
<text transform="translate(1201.64 1883.60) scale(1.1197 1.0277)" font-family='"Liberation Sans", sans-serif' font-size="49" font-weight="bold" font-style="normal" fill="#5aaa32">2,8</text>
<text transform="translate(1306.04 1883.60) scale(1.0480 1.0430)" font-family='"Liberation Sans", sans-serif' font-size="49" font-weight="bold" font-style="normal" fill="#5aaa32">Vox</text>
<text transform="translate(49.51 1960.75) scale(0.9840 1.0000)" font-family='"Liberation Sans", sans-serif' font-size="49" font-weight="normal" font-style="normal" fill="#000" stroke="#f7f8fa" stroke-width="1.3">Elecc.</text>
<text transform="translate(58.79 2012.45) scale(1.0239 1.0000)" font-family='"Liberation Sans", sans-serif' font-size="49" font-weight="normal" font-style="normal" fill="#000" stroke="#f7f8fa" stroke-width="1.3">2015</text>
<text transform="translate(205.66 1960.75) scale(0.9725 1.0000)" font-family='"Liberation Sans", sans-serif' font-size="49" font-weight="normal" font-style="normal" fill="#000" stroke="#f7f8fa" stroke-width="1.3">Sondaxe</text>
<text transform="translate(258.97 2012.45) scale(0.8701 1.0000)" font-family='"Liberation Sans", sans-serif' font-size="49" font-weight="normal" font-style="normal" fill="#000" stroke="#f7f8fa" stroke-width="1.3">FEB</text>
<text transform="translate(420.36 1962.35) scale(0.9937 1.0000)" font-family='"Liberation Sans", sans-serif' font-size="49" font-weight="normal" font-style="normal" fill="#8395b3" stroke="#fff" stroke-width="1.3">sáb.</text>
<text transform="translate(443.18 2011.55) scale(0.8715 1.0000)" font-family='"Liberation Sans", sans-serif' font-size="49" font-weight="normal" font-style="normal" fill="#8395b3" stroke="#fff" stroke-width="1.3">11</text>
<text transform="translate(530.47 1962.35) scale(1.0400 1.0000)" font-family='"Liberation Sans", sans-serif' font-size="49" font-weight="normal" font-style="normal" fill="#8395b3" stroke="#fff" stroke-width="1.3">dom.</text>
<text transform="translate(558.87 2011.55) scale(0.9534 1.0000)" font-family='"Liberation Sans", sans-serif' font-size="49" font-weight="normal" font-style="normal" fill="#8395b3" stroke="#fff" stroke-width="1.3">12</text>
<text transform="translate(687.00 1962.35) scale(1.0322 1.0000)" font-family='"Liberation Sans", sans-serif' font-size="49" font-weight="normal" font-style="normal" fill="#8395b3" stroke="#fff" stroke-width="1.3">lun.</text>
<text transform="translate(699.92 2011.55) scale(0.9402 1.0000)" font-family='"Liberation Sans", sans-serif' font-size="49" font-weight="normal" font-style="normal" fill="#8395b3" stroke="#fff" stroke-width="1.3">13</text>
<text transform="translate(815.91 1962.35) scale(1.0883 1.0000)" font-family='"Liberation Sans", sans-serif' font-size="49" font-weight="normal" font-style="normal" fill="#8395b3" stroke="#fff" stroke-width="1.3">mar.</text>
<text transform="translate(839.60 2011.55) scale(0.9746 1.0000)" font-family='"Liberation Sans", sans-serif' font-size="49" font-weight="normal" font-style="normal" fill="#8395b3" stroke="#fff" stroke-width="1.3">14</text>
<text transform="translate(960.73 1962.35) scale(1.0518 1.0000)" font-family='"Liberation Sans", sans-serif' font-size="49" font-weight="normal" font-style="normal" fill="#8395b3" stroke="#fff" stroke-width="1.3">mié.</text>
<text transform="translate(980.58 2011.55) scale(0.9518 1.0000)" font-family='"Liberation Sans", sans-serif' font-size="49" font-weight="normal" font-style="normal" fill="#8395b3" stroke="#fff" stroke-width="1.3">15</text>
<text transform="translate(1113.16 1962.35) scale(0.9711 1.0000)" font-family='"Liberation Sans", sans-serif' font-size="49" font-weight="normal" font-style="normal" fill="#8395b3" stroke="#fff" stroke-width="1.3">jue.</text>
<text transform="translate(1119.54 2011.55) scale(1.0165 1.0000)" font-family='"Liberation Sans", sans-serif' font-size="49" font-weight="normal" font-style="normal" fill="#8395b3" stroke="#fff" stroke-width="1.3">16</text>
<text transform="translate(1253.10 1962.35) scale(1.0174 1.0000)" font-family='"Liberation Sans", sans-serif' font-size="49" font-weight="normal" font-style="normal" fill="#8395b3" stroke="#fff" stroke-width="1.3">vie.</text>
<text transform="translate(1263.07 2011.55) scale(0.9016 1.0000)" font-family='"Liberation Sans", sans-serif' font-size="49" font-weight="normal" font-style="normal" fill="#8395b3" stroke="#fff" stroke-width="1.3">17</text>
<text transform="translate(1385.85 1962.35) scale(0.9971 1.0000)" font-family='"Liberation Sans", sans-serif' font-size="49" font-weight="normal" font-style="normal" fill="#8395b3" stroke="#fff" stroke-width="1.3">sáb.</text>
<text transform="translate(1401.99 2011.55) scale(1.0031 1.0000)" font-family='"Liberation Sans", sans-serif' font-size="49" font-weight="normal" font-style="normal" fill="#8395b3" stroke="#fff" stroke-width="1.3">18</text>
<text transform="translate(1516.38 1962.35) scale(1.0361 1.0000)" font-family='"Liberation Sans", sans-serif' font-size="49" font-weight="normal" font-style="normal" fill="#8395b3" stroke="#fff" stroke-width="1.3">dom.</text>
<text transform="translate(1543.47 2011.55) scale(0.9814 1.0000)" font-family='"Liberation Sans", sans-serif' font-size="49" font-weight="normal" font-style="normal" fill="#8395b3" stroke="#fff" stroke-width="1.3">19</text>
<text transform="translate(1672.10 1962.35) scale(1.0322 1.0000)" font-family='"Liberation Sans", sans-serif' font-size="49" font-weight="normal" font-style="normal" fill="#8395b3" stroke="#fff" stroke-width="1.3">lun.</text>
<text transform="translate(1679.83 2011.55) scale(1.0060 1.0000)" font-family='"Liberation Sans", sans-serif' font-size="49" font-weight="normal" font-style="normal" fill="#8395b3" stroke="#fff" stroke-width="1.3">20</text>
<rect x="53.9" y="2079.8" width="32.2" height="32.2" fill="#b5bfd6"/>
<rect x="469" y="2079.8" width="32.2" height="32.2" fill="#b5bfd6"/>
<text transform="translate(102.10 2111.80) scale(1.0056 1.0000)" font-family='"Liberation Sans", sans-serif' font-size="44" font-weight="normal" font-style="normal" fill="#000" stroke="#fff" stroke-width="0.8">Abstención</text>
<text transform="translate(330.00 2112.30) scale(1.1000 1.0000)" font-family='"Liberation Sans", sans-serif' font-size="44" font-weight="bold" font-style="normal" fill="#000" stroke="#fff" stroke-width="1.8">30,0</text>
<text transform="translate(512.00 2111.80) scale(1.0000 1.0000)" font-family='"Liberation Sans", sans-serif' font-size="44" font-weight="normal" font-style="normal" fill="#000" stroke="#fff" stroke-width="0.8">Indecisos/opacos</text>
<text transform="translate(862.86 2112.30) scale(1.0272 1.0000)" font-family='"Liberation Sans", sans-serif' font-size="44" font-weight="bold" font-style="normal" fill="#000" stroke="#fff" stroke-width="1.8">23,3</text>
<defs><clipPath id="band"><path d="M61 2143.3H1714.2L1697.5 2177Q1684 2206.5 1655 2206.5H6.5L27 2165Q37.5 2143.3 61 2143.3Z"/></clipPath></defs>
<path d="M61 2143.3H1714.2L1697.5 2177Q1684 2206.5 1655 2206.5H6.5L27 2165Q37.5 2143.3 61 2143.3Z" fill="#b5bfd6"/>
<g clip-path="url(#band)">
<text transform="translate(1022.59 2206.40) scale(1.0283 1.0000)" font-family='"Liberation Sans", sans-serif' font-size="133" font-weight="normal" font-style="normal" fill="#e4e8f1">Lavoz.es</text>
</g>
<text transform="translate(65.22 2192.20) scale(0.9700 1.0085)" font-family='"Liberation Sans", sans-serif' font-size="49" font-weight="normal" font-style="normal" fill="#6b6762" stroke="#b5bfd6" stroke-width="1.2">Fuente: Sondaxe</text>
</svg>
</body></html>
